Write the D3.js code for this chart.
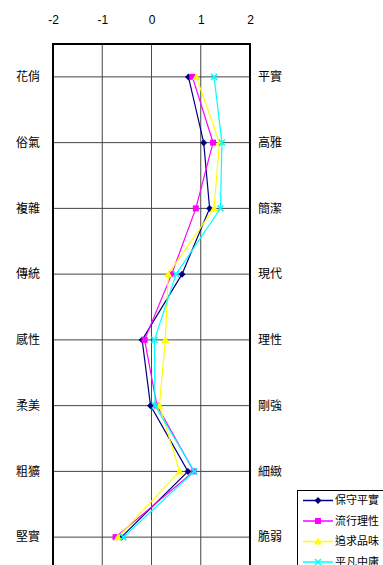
<!DOCTYPE html>
<html>
<head>
<meta charset="utf-8">
<script src="https://cdn.jsdelivr.net/npm/d3@7"></script>
<style>
  html, body { margin: 0; padding: 0; background: #fff; }
  svg { display: block; }
</style>
</head>
<body>
<svg id="chart" width="383" height="565"></svg>
<script>
// Semantic differential pairs: left pole / right pole
const leftLabels  = ["花俏", "俗氣", "複雜", "傳統", "感性", "柔美", "粗獷", "堅實"];
const rightLabels = ["平實", "高雅", "簡潔", "現代", "理性", "剛強", "細緻", "脆弱"];
const xTicks = [-2, -1, 0, 1, 2];

// Mean scores per group
const seriesNames = ["保守平實", "流行理性", "追求品味", "平凡中庸"];
const conservative = [0.75, 1.06, 1.18, 0.62, -0.19, -0.02, 0.74, -0.61];
const trendy       = [0.83, 1.25, 0.90, 0.41, -0.14, 0.11, 0.86, -0.73];
const tasteful     = [0.91, 1.38, 1.27, 0.34, 0.28, 0.16, 0.57, -0.68];
const ordinary     = [1.27, 1.43, 1.40, 0.50, 0.06, 0.07, 0.87, -0.57];

const seriesValues = [conservative, trendy, tasteful, ordinary];
const colors = ["#000080", "#ff00ff", "#ffff00", "#00ffff"];
const shapes = ["diamond", "square", "triangle", "cross"];

const svg = d3.select("#chart");
const plot = { left: 53, right: 250, top: 44, bottom: 570 };

const x = d3.scaleLinear().domain([-2, 2]).range([plot.left, plot.right]);
const y = d3.scalePoint().domain(d3.range(leftLabels.length))
  .range([plot.top, plot.bottom]).padding(0.5);

const cjk = "'Noto Sans CJK TC', 'Noto Sans CJK SC', sans-serif";

// Horizontal gridlines for each attribute pair
svg.append("g").selectAll("line").data(d3.range(leftLabels.length)).join("line")
  .attr("x1", plot.left).attr("x2", plot.right)
  .attr("y1", d => y(d)).attr("y2", d => y(d))
  .attr("stroke", "#444").attr("stroke-width", 1);

// Vertical gridlines at ±1, red reference line at 0
svg.append("g").selectAll("line").data([-1, 0, 1]).join("line")
  .attr("x1", d => x(d)).attr("x2", d => x(d))
  .attr("y1", plot.top).attr("y2", plot.bottom)
  .attr("stroke", d => d === 0 ? "#ff0000" : "#444")
  .attr("stroke-width", 1);

// Top axis labels (plain hyphen for negatives)
const axisTop = d3.axisTop(x).tickValues(xTicks).tickSize(0).tickFormat(d => String(d));
const gAxis = svg.append("g").attr("transform", "translate(0,27)").call(axisTop);
gAxis.select(".domain").remove();
gAxis.selectAll("text")
  .attr("font-family", "'Liberation Sans', Arial, sans-serif")
  .attr("font-size", 12).attr("fill", "#000");

// Pole labels
svg.append("g").selectAll("text").data(leftLabels).join("text")
  .attr("x", 40).attr("y", (d, i) => y(i))
  .attr("dy", "0.35em").attr("text-anchor", "end")
  .attr("font-family", cjk).attr("font-size", 12).attr("fill", "#000")
  .text(d => d);
svg.append("g").selectAll("text").data(rightLabels).join("text")
  .attr("x", 258).attr("y", (d, i) => y(i))
  .attr("dy", "0.35em").attr("text-anchor", "start")
  .attr("font-family", cjk).attr("font-size", 12).attr("fill", "#000")
  .text(d => d);

// Marker drawing helper
function drawMarker(g, shape, color, cx, cy) {
  if (shape === "diamond") {
    g.append("path").attr("d", `M${cx},${cy - 3.5}L${cx + 3.5},${cy}L${cx},${cy + 3.5}L${cx - 3.5},${cy}Z`)
      .attr("fill", color);
  } else if (shape === "square") {
    g.append("rect").attr("x", cx - 3).attr("y", cy - 3).attr("width", 6).attr("height", 6)
      .attr("fill", color);
  } else if (shape === "triangle") {
    g.append("path").attr("d", `M${cx},${cy - 4}L${cx + 4},${cy + 3}L${cx - 4},${cy + 3}Z`)
      .attr("fill", color);
  } else {
    g.append("path").attr("d", `M${cx - 3},${cy - 3}L${cx + 3},${cy + 3}M${cx + 3},${cy - 3}L${cx - 3},${cy + 3}`)
      .attr("stroke", color).attr("stroke-width", 1.5);
  }
}

// Profile lines
const line = d3.line().x(d => x(d)).y((d, i) => y(i));
seriesValues.forEach((vals, s) => {
  const g = svg.append("g");
  g.append("path").datum(vals).attr("d", line)
    .attr("fill", "none").attr("stroke", colors[s]).attr("stroke-width", 1.2);
  vals.forEach((v, i) => drawMarker(g, shapes[s], colors[s], x(v), y(i)));
});

// Plot frame
svg.append("path")
  .attr("d", `M${plot.left},${plot.bottom}V${plot.top}H${plot.right}V${plot.bottom}`)
  .attr("fill", "none").attr("stroke", "#000").attr("stroke-width", 2);

// Legend
const legend = svg.append("g");
legend.append("rect").attr("x", 297.5).attr("y", 490.5).attr("width", 100).attr("height", 100)
  .attr("fill", "#fff").attr("stroke", "#000").attr("stroke-width", 1);
seriesNames.forEach((name, s) => {
  const ly = 500.5 + s * 20.5;
  legend.append("line").attr("x1", 303).attr("x2", 333).attr("y1", ly).attr("y2", ly)
    .attr("stroke", colors[s]).attr("stroke-width", 1.5);
  drawMarker(legend, shapes[s], colors[s], 318, ly);
  legend.append("text").attr("x", 335).attr("y", ly).attr("dy", "0.35em")
    .attr("font-family", cjk).attr("font-size", 11).attr("fill", "#000")
    .text(name);
});
</script>
</body>
</html>
